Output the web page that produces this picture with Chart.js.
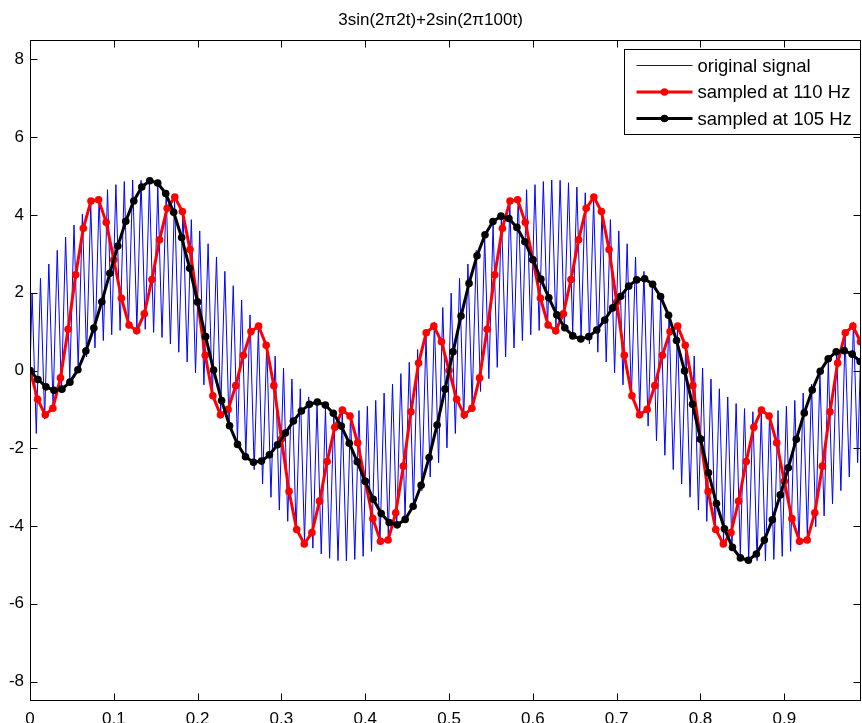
<!DOCTYPE html>
<html>
<head>
<meta charset="utf-8">
<script src="https://cdn.jsdelivr.net/npm/chart.js@4.4.1/dist/chart.umd.min.js"></script>
<style>
  html, body { margin: 0; padding: 0; background: #fff; overflow: hidden; }
  #wrap { position: relative; width: 862px; height: 723px; }
</style>
</head>
<body>
<div id="wrap"><canvas id="sigChart"></canvas></div>
<script>
// --- data ---
const titleText = '3sin(2\u03c02t)+2sin(2\u03c0100t)';
const seriesNames = ['original signal', 'sampled at 110 Hz', 'sampled at 105 Hz'];

// original signal: start value, then the 100 Hz peaks / troughs (every 5 ms, from 2.5 ms)
const originalValues = [0,
  1.99, -1.62, 2.37, -1.25, 2.74, -0.88, 3.09, -0.54, 3.43, -0.21,
  3.74, 0.08, 4.02, 0.35, 4.27, 0.58, 4.48, 0.77, 4.65, 0.92,
  4.78, 1.03, 4.86, 1.09, 4.90, 1.10, 4.89, 1.06, 4.83, 0.98,
  4.72, 0.85, 4.57, 0.68, 4.38, 0.47, 4.15, 0.22, 3.88, -0.06,
  3.59, -0.37, 3.26, -0.71, 2.92, -1.06, 2.55, -1.43, 2.18, -1.81,
  1.81, -2.18, 1.43, -2.55, 1.06, -2.92, 0.71, -3.26, 0.37, -3.59,
  0.06, -3.88, -0.22, -4.15, -0.47, -4.38, -0.68, -4.57, -0.85, -4.72,
  -0.98, -4.83, -1.06, -4.89, -1.10, -4.90, -1.09, -4.86, -1.03, -4.78,
  -0.92, -4.65, -0.77, -4.48, -0.58, -4.27, -0.35, -4.02, -0.08, -3.74,
  0.21, -3.43, 0.54, -3.09, 0.88, -2.74, 1.25, -2.37, 1.62, -1.99,
  1.99, -1.62, 2.37, -1.25, 2.74, -0.88, 3.09, -0.54, 3.43, -0.21,
  3.74, 0.08, 4.02, 0.35, 4.27, 0.58, 4.48, 0.77, 4.65, 0.92,
  4.78, 1.03, 4.86, 1.09, 4.90, 1.10, 4.89, 1.06, 4.83, 0.98,
  4.72, 0.85, 4.57, 0.68, 4.38, 0.47, 4.15, 0.22, 3.88, -0.06,
  3.59, -0.37, 3.26, -0.71, 2.92, -1.06, 2.55, -1.43, 2.18, -1.81,
  1.81, -2.18, 1.43, -2.55, 1.06, -2.92, 0.71, -3.26, 0.37, -3.59,
  0.06, -3.88, -0.22, -4.15, -0.47, -4.38, -0.68, -4.57, -0.85, -4.72,
  -0.98, -4.83, -1.06, -4.89, -1.10, -4.90, -1.09, -4.86, -1.03, -4.78,
  -0.92, -4.65, -0.77, -4.48, -0.58, -4.27, -0.35, -4.02, -0.08, -3.74,
  0.21, -3.43, 0.54, -3.09, 0.88, -2.74, 1.25, -2.37, 1.62, -1.99
];

// samples taken at 110 Hz (n = 0..109)
const rate110 = 110;
const sampled110 = [
  0, -0.74, -1.14, -0.97, -0.19, 1.06, 2.46, 3.66, 4.36, 4.39,
  3.81, 2.85, 1.86, 1.17, 1.02, 1.46, 2.34, 3.36, 4.17, 4.46,
  4.09, 3.11, 1.76, 0.39, -0.65, -1.14, -1.00, -0.39, 0.39, 1.00,
  1.14, 0.65, -0.39, -1.76, -3.11, -4.09, -4.46, -4.17, -3.36, -2.34,
  -1.46, -1.02, -1.17, -1.86, -2.85, -3.81, -4.39, -4.36, -3.66, -2.46,
  -1.06, 0.19, 0.97, 1.14, 0.74,
  0, -0.74, -1.14, -0.97, -0.19, 1.06, 2.46, 3.66, 4.36, 4.39,
  3.81, 2.85, 1.86, 1.17, 1.02, 1.46, 2.34, 3.36, 4.17, 4.46,
  4.09, 3.11, 1.76, 0.39, -0.65, -1.14, -1.00, -0.39, 0.39, 1.00,
  1.14, 0.65, -0.39, -1.76, -3.11, -4.09, -4.46, -4.17, -3.36, -2.34,
  -1.46, -1.02, -1.17, -1.86, -2.85, -3.81, -4.39, -4.36, -3.66, -2.46,
  -1.06, 0.19, 0.97, 1.14, 0.74
];

// samples taken at 105 Hz (n = 0..104)
const rate105 = 105;
const sampled105 = [
  0, -0.23, -0.42, -0.51, -0.48, -0.30, 0.02, 0.50, 1.09, 1.77,
  2.50, 3.20, 3.84, 4.36, 4.72, 4.88, 4.82, 4.55, 4.07, 3.42,
  2.63, 1.76, 0.87, 0.01, -0.77, -1.42, -1.90, -2.22, -2.36, -2.33,
  -2.17, -1.91, -1.61, -1.30, -1.04, -0.87, -0.81, -0.89, -1.10, -1.43,
  -1.87, -2.35, -2.85, -3.31, -3.68, -3.91, -3.97, -3.83, -3.49, -2.95,
  -2.24, -1.40, -0.48, 0.48, 1.40, 2.24, 2.95, 3.49, 3.83, 3.97,
  3.91, 3.68, 3.31, 2.85, 2.35, 1.87, 1.43, 1.10, 0.89, 0.81,
  0.87, 1.04, 1.30, 1.61, 1.91, 2.17, 2.33, 2.36, 2.22, 1.90,
  1.42, 0.77, -0.01, -0.87, -1.76, -2.63, -3.42, -4.07, -4.55, -4.82,
  -4.88, -4.72, -4.36, -3.84, -3.20, -2.50, -1.77, -1.09, -0.50, -0.02,
  0.30, 0.48, 0.51, 0.42, 0.23
];

const xTicks = [0, 0.1, 0.2, 0.3, 0.4, 0.5, 0.6, 0.7, 0.8, 0.9];
const yTicks = [-8, -6, -4, -2, 0, 2, 4, 6, 8];
const xRange = [0, 0.9915];
const yRange = [-8.5, 8.5];

// --- build points ---
const originalPts = originalValues.map((v, i) => ({ x: i === 0 ? 0 : (2 * i - 1) / 400, y: v }));
const pts110 = sampled110.map((v, i) => ({ x: i / rate110, y: v }));
const pts105 = sampled105.map((v, i) => ({ x: i / rate105, y: v }));

const FONT = '"Liberation Sans", Arial, Helvetica, sans-serif';

// box around the axes with inward ticks on all four sides
const axesBox = {
    id: 'axesBox',
    afterDatasetsDraw(chart) {
        const { ctx, chartArea: a, scales } = chart;
        const L = Math.round(a.left) + 0.5, R = Math.round(a.right) - 0.5;
        const T = Math.round(a.top) + 0.5, B = Math.round(a.bottom) - 0.5;
        const len = 7;
        ctx.save();
        ctx.strokeStyle = '#000';
        ctx.lineWidth = 1;
        ctx.strokeRect(L, T, R - L, B - T);
        ctx.beginPath();
        xTicks.forEach(v => {
            const px = Math.round(scales.x.getPixelForValue(v)) + 0.5;
            ctx.moveTo(px, B); ctx.lineTo(px, B - len);
            ctx.moveTo(px, T); ctx.lineTo(px, T + len);
        });
        yTicks.forEach(v => {
            const py = Math.round(scales.y.getPixelForValue(v)) + 0.5;
            ctx.moveTo(L, py); ctx.lineTo(L + len, py);
            ctx.moveTo(R, py); ctx.lineTo(R - len, py);
        });
        ctx.stroke();
        ctx.restore();
    }
};

// MATLAB style legend in the upper right corner
const boxLegend = {
    id: 'boxLegend',
    afterDraw(chart) {
        const { ctx, chartArea: a } = chart;
        const w = 236, h = 85;
        const left = Math.round(a.right) - w - 0.5;
        const top = Math.round(a.top) + 9 + 0.5;
        ctx.save();
        ctx.fillStyle = '#fff';
        ctx.fillRect(left, top, w, h);
        ctx.strokeStyle = '#000';
        ctx.lineWidth = 1;
        ctx.strokeRect(left, top, w, h);
        ctx.font = '18.5px ' + FONT;
        ctx.textBaseline = 'middle';
        chart.data.datasets.forEach((ds, i) => {
            const cy = top + 16 + i * 26.5;
            ctx.strokeStyle = ds.borderColor;
            ctx.lineWidth = ds.borderWidth;
            ctx.beginPath();
            ctx.moveTo(left + 12, cy);
            ctx.lineTo(left + 68, cy);
            ctx.stroke();
            if (ds.pointRadius > 0) {
                ctx.fillStyle = ds.borderColor;
                ctx.beginPath();
                ctx.arc(left + 40, cy, ds.pointRadius, 0, Math.PI * 2);
                ctx.fill();
            }
            ctx.fillStyle = '#000';
            ctx.fillText(ds.label, left + 73, cy + 1);
        });
        ctx.restore();
    }
};

new Chart(document.getElementById('sigChart'), {
    type: 'line',
    data: {
        datasets: [
            {
                label: seriesNames[0],
                data: originalPts,
                borderColor: '#0000ff',
                borderWidth: 1,
                pointRadius: 0,
                tension: 0,
                order: 3
            },
            {
                label: seriesNames[1],
                data: pts110,
                borderColor: '#ff0000',
                backgroundColor: '#ff0000',
                borderWidth: 3,
                pointRadius: 3.8,
                pointBorderWidth: 0,
                pointBackgroundColor: '#ff0000',
                tension: 0,
                order: 2
            },
            {
                label: seriesNames[2],
                data: pts105,
                borderColor: '#000000',
                backgroundColor: '#000000',
                borderWidth: 3,
                pointRadius: 3.8,
                pointBorderWidth: 0,
                pointBackgroundColor: '#000000',
                tension: 0,
                order: 1
            }
        ]
    },
    options: {
        responsive: true,
        maintainAspectRatio: false,
        animation: false,
        events: [],
        layout: { autoPadding: false, padding: { top: 0, left: 0, right: 1, bottom: 0 } },
        plugins: {
            legend: { display: false },
            tooltip: { enabled: false },
            title: {
                display: true,
                text: titleText,
                color: '#000',
                font: { family: FONT, size: 17, weight: 'normal', lineHeight: 1.2 },
                padding: { top: 10, bottom: 9.6 }
            }
        },
        scales: {
            x: {
                type: 'linear',
                min: xRange[0],
                max: xRange[1],
                border: { display: false },
                grid: { display: false, drawTicks: false },
                afterBuildTicks: s => { s.ticks = xTicks.map(v => ({ value: v })); },
                afterFit: s => { s.height = 22; s.paddingLeft = 0; s.paddingRight = 0; },
                ticks: {
                    color: '#000',
                    padding: 8,
                    maxRotation: 0,
                    font: { family: FONT, size: 17 },
                    callback: v => String(v)
                }
            },
            y: {
                type: 'linear',
                min: yRange[0],
                max: yRange[1],
                border: { display: false },
                grid: { display: false, drawTicks: false },
                afterBuildTicks: s => { s.ticks = yTicks.map(v => ({ value: v })); },
                afterFit: s => { s.width = 30; s.paddingTop = 0; s.paddingBottom = 0; },
                ticks: {
                    color: '#000',
                    padding: 6,
                    font: { family: FONT, size: 17 },
                    callback: v => String(v)
                }
            }
        }
    },
    plugins: [axesBox, boxLegend]
});
</script>
</body>
</html>
